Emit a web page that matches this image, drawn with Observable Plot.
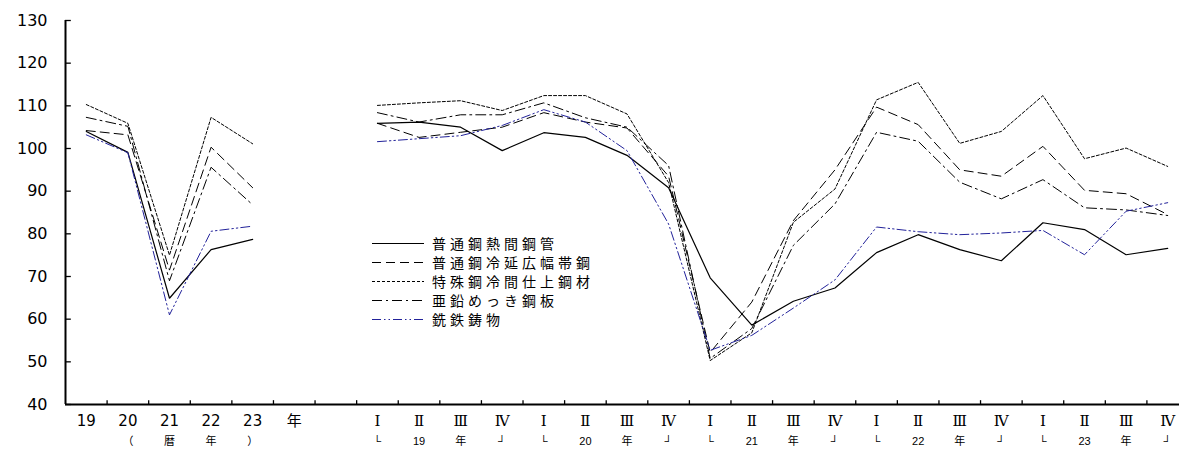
<!DOCTYPE html>
<html><head><meta charset="utf-8">
<script src="https://cdn.jsdelivr.net/npm/d3@7"></script>
<script src="https://cdn.jsdelivr.net/npm/@observablehq/plot@0.6"></script>
<style>
html,body{margin:0;padding:0;background:#fff;overflow:hidden;}
#wrap{position:relative;width:1179px;height:450px;overflow:hidden;}
#legend{position:absolute;left:372px;top:234px;font-family:"Noto Sans CJK JP",sans-serif;font-size:14px;letter-spacing:4px;color:#000;}
.row{display:flex;align-items:center;height:18.9px;white-space:nowrap;}
.row svg{width:52px;height:19px;margin-right:8px;flex:none;}
</style></head><body><div id="wrap"><div id="legend"></div></div>
<script>
// ---- data ----
const topLabels = ["19","20","21","22","23","年","",
  "Ⅰ","Ⅱ","Ⅲ","Ⅳ","Ⅰ","Ⅱ","Ⅲ","Ⅳ","Ⅰ","Ⅱ","Ⅲ","Ⅳ","Ⅰ","Ⅱ","Ⅲ","Ⅳ","Ⅰ","Ⅱ","Ⅲ","Ⅳ"];
const subLabels = ["","（","暦","年","）","","",
  "└","19","年","┘","└","20","年","┘","└","21","年","┘","└","22","年","┘","└","23","年","┘"];
const seriesNames = ["普通鋼熱間鋼管","普通鋼冷延広幅帯鋼","特殊鋼冷間仕上鋼材","亜鉛めっき鋼板","銑鉄鋳物"];
const yTicks = [40,50,60,70,80,90,100,110,120,130];

const hotPipe = [104.0, 99.1, 64.9, 76.3, 78.7, null, null,
  105.9, 106.2, 105.0, 99.5,  103.7, 102.6, 98.4, 90.8,
  69.7, 58.6, 64.2, 67.3,  75.6, 79.8, 76.3, 73.7,  82.6, 81.0, 75.1, 76.6];
const coldStrip = [104.2, 103.2, 71.5, 100.3, 90.8, null, null,
  105.9, 102.6, 103.8, 105.0,  108.4, 106.2, 104.8, 93.5,
  52.2, 64.0, 83.1, 95.0,  109.7, 105.6, 95.0, 93.5,  100.5, 90.2, 89.4, 84.5];
const specialCold = [110.3, 105.9, 75.0, 107.3, 101.1, null, null,
  110.1, 110.7, 111.2, 108.9,  112.4, 112.4, 108.1, 92.0,
  50.3, 56.8, 82.7, 90.5,  111.4, 115.5, 101.2, 104.0,  112.4, 97.6, 100.1, 95.8];
const galvanized = [107.3, 105.2, 69.0, 95.6, 86.8, null, null,
  108.4, 106.2, 107.9, 107.9,  110.7, 107.2, 105.0, 96.0,
  50.8, 57.8, 77.3, 87.0,  103.8, 101.7, 92.1, 88.2,  92.7, 86.1, 85.6, 84.3];
const castIron = [103.2, 99.0, 61.0, 80.6, 81.8, null, null,
  101.6, 102.3, 103.0, 105.4,  109.1, 106.2, 99.5, 82.3,
  52.7, 56.2, 62.6, 69.2,  81.6, 80.5, 79.8, 80.2,  80.8, 75.1, 85.3, 87.3];

// ---- styles ----
const seriesValues = [hotPipe, coldStrip, specialCold, galvanized, castIron];
const styles = [
  {stroke:"#000", dash:null, w:1.2},
  {stroke:"#000", dash:"9,5", w:1},
  {stroke:"#000", dash:"3,2", w:1},
  {stroke:"#000", dash:"10,4,2,4", w:1},
  {stroke:"#22229a", dash:"9,3,1.5,3,1.5,3", w:1}
];

const idx = d3.range(topLabels.length);
const boundaries = d3.range(1, topLabels.length).map(k => k - 0.5);
const numFont = '"DejaVu Sans", "Noto Sans CJK JP", sans-serif';
const subFont = '"Liberation Sans", "Noto Sans CJK JP", sans-serif';

const lineMarks = seriesValues.map((arr, s) =>
  Plot.line(idx.map(i => ({i, v: arr[i]})), {
    x: "i", y: "v", stroke: styles[s].stroke, strokeWidth: styles[s].w,
    strokeDasharray: styles[s].dash, strokeLinejoin: "miter"
  }));

const chart = Plot.plot({
  width: 1179, height: 450,
  marginLeft: 65, marginRight: -9, marginTop: 20, marginBottom: 46,
  x: {type: "linear", domain: [-0.5, topLabels.length - 0.5], axis: null},
  y: {domain: [40, 130], axis: null},
  style: {background: "#fff", overflow: "hidden"},
  marks: [
    ...lineMarks,
    Plot.ruleY([40], {x1: -0.5, x2: topLabels.length - 0.5, strokeWidth: 2, stroke: "#000"}),
    Plot.ruleX([-0.5], {y1: 40, y2: 130, strokeWidth: 2, stroke: "#000"}),
    Plot.ruleY(yTicks, {y: d => d, x1: -0.5, x2: -0.36, stroke: "#000", strokeWidth: 1.3}),
    Plot.ruleX(boundaries, {x: d => d, y1: 40, y2: 40.9, stroke: "#000", strokeWidth: 1.3}),
    Plot.text(yTicks, {y: d => d, text: d => String(d), frameAnchor: "left", dx: -18,
      textAnchor: "end", fontSize: 16, fontWeight: 400, fontFamily: numFont, fill: "#000"}),
    Plot.text(idx.filter(i => i < 7), {x: d => d, text: d => topLabels[d], frameAnchor: "bottom",
      dy: 21.6, fontSize: 15, fontWeight: 400, fontFamily: numFont, fill: "#000"}),
    Plot.text(idx.filter(i => i >= 7), {x: d => d, text: d => topLabels[d], frameAnchor: "bottom",
      dy: 21.6, fontSize: 15, fontWeight: 400, fontFamily: '"DejaVu Serif", serif', fill: "#000"}),
    Plot.text(idx, {x: d => d, text: d => subLabels[d], frameAnchor: "bottom",
      dy: 40.5, fontSize: 11, fontWeight: 400, fontFamily: subFont, fill: "#000"})
  ]
});
chart.querySelectorAll("text").forEach(t => {
  const fs = t.getAttribute("font-size");
  if (fs === "16") t.style.letterSpacing = "2px";
  if (fs === "11") t.style.letterSpacing = "1px";
});
document.getElementById("wrap").prepend(chart);

// legend
const legend = document.getElementById("legend");
seriesNames.forEach((name, s) => {
  const row = document.createElement("div");
  row.className = "row";
  const st = styles[s];
  row.innerHTML = `<svg viewBox="0 0 52 19"><line x1="0" x2="52" y1="9.5" y2="9.5" stroke="${st.stroke}" stroke-width="${st.w}" ${st.dash ? `stroke-dasharray="${st.dash}"` : ""}/></svg><span>${name}</span>`;
  legend.appendChild(row);
});
</script>
</body></html>
